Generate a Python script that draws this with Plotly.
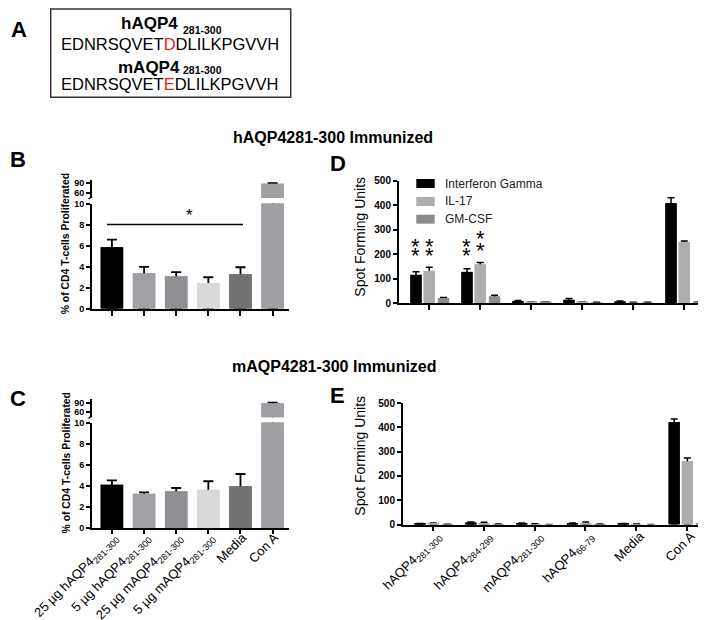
import plotly.graph_objects as go

W, H = 706, 620
FONT = "Arial, 'Liberation Sans', sans-serif"


def px(x):
    return x / W


def py(y):
    return 1 - y / H


# ---------------- data ----------------
prolif_cats = ["25 µg hAQP4<sub>281-300</sub>", "5 µg hAQP4<sub>281-300</sub>",
               "25 µg mAQP4<sub>281-300</sub>", "5 µg mAQP4<sub>281-300</sub>",
               "Media", "Con A"]
prolif_colors = ["#000000", "#a0a0a5", "#909094", "#d9d9d9", "#727272", "#a0a0a4"]

# panel B (hAQP4 281-300 immunized) - % CD4 T-cells proliferated
b_prolif = [5.85, 3.37, 3.08, 2.45, 3.27, 88.5]
b_prolif_err = [0.72, 0.60, 0.39, 0.54, 0.67, 1.5]
# panel C (mAQP4 281-300 immunized)
c_prolif = [4.10, 3.25, 3.48, 3.63, 3.95, 88.0]
c_prolif_err = [0.42, 0.13, 0.31, 0.80, 1.17, 1.5]

elispot_cats = ["hAQP4<sub>281-300</sub>", "hAQP4<sub>284-299</sub>", "mAQP4<sub>281-300</sub>",
                "hAQP4<sub>66-79</sub>", "Media", "Con A"]
cytokines = ["Interferon Gamma", "IL-17", "GM-CSF"]
cyto_colors = ["#000000", "#adadad", "#8c8c8c"]

# panel D (hAQP4 281-300 immunized) - spot forming units
d_ifn = [115, 127, 8, 13, 6, 407]
d_ifn_err = [13, 13, 2, 5, 2, 23]
d_il17 = [131, 158, 3, 3, 2, 249]
d_il17_err = [15, 7, 1, 1, 1, 4]
d_gm = [20, 27, 3, 2, 2, 3]
d_gm_err = [2, 5, 1, 1, 1, 1]

# panel E (mAQP4 281-300 immunized)
e_ifn = [3, 8, 5, 5, 3, 422]
e_ifn_err = [1, 2, 1, 1, 1, 12]
e_il17 = [3, 4, 2, 5, 1, 260]
e_il17_err = [3, 5, 1, 5, 1, 14]
e_gm = [1, 2, 0, 2, 0, 3]
e_gm_err = [0, 0, 0, 0, 0, 1]

# ---------------- figure ----------------
fig = go.Figure()


def add_bars(x, y, err, color, width, offset, xa, ya, cap, thick):
    # bar with upward error bar, then the same bar on top to hide the lower half
    fig.add_trace(go.Bar(
        x=x, y=y, width=width, offset=offset, marker=dict(color=color, line=dict(width=0)),
        error_y=dict(type="data", symmetric=False, array=err, arrayminus=y,
                     color="black", thickness=thick, width=cap),
        xaxis=xa, yaxis=ya, showlegend=False, hoverinfo="skip"))
    fig.add_trace(go.Bar(
        x=x, y=y, width=width, offset=offset, marker=dict(color=color, line=dict(width=0)),
        xaxis=xa, yaxis=ya, showlegend=False, hoverinfo="skip"))


# proliferation panels (broken axis: lower + upper segment)
for vals, errs, xa, ylow, yup in [(b_prolif, b_prolif_err, "x", "y", "y2"),
                                  (c_prolif, c_prolif_err, "x2", "y3", "y4")]:
    for ya in (ylow, yup):
        add_bars(prolif_cats, vals, errs, prolif_colors, 0.7, -0.35, xa, ya, 5, 1.8)

# ELISpot panels
bar_w = 0.22
offsets = [-0.365, -0.105, 0.175]
for series, xa, ya in [([(d_ifn, d_ifn_err), (d_il17, d_il17_err), (d_gm, d_gm_err)], "x3", "y5"),
                       ([(e_ifn, e_ifn_err), (e_il17, e_il17_err), (e_gm, e_gm_err)], "x4", "y6")]:
    for (vals, errs), col, off in zip(series, cyto_colors, offsets):
        add_bars(elispot_cats, vals, errs, col, bar_w, off, xa, ya, 3.5, 1.5)

axis_common = dict(showgrid=False, zeroline=False, showline=True, linecolor="black", linewidth=2,
                   ticks="outside", tickcolor="black", tickwidth=1.5, ticklen=5,
                   automargin=False, fixedrange=True)
bold9 = dict(family=FONT, size=9, color="black", weight="bold")
bold10 = dict(family=FONT, size=10, color="black", weight="bold")
reg13 = dict(family=FONT, size=13, color="black")

fig.update_layout(
    width=W, height=H, margin=dict(l=0, r=0, t=0, b=0),
    paper_bgcolor="white", plot_bgcolor="rgba(0,0,0,0)",
    template="none", barmode="overlay", showlegend=False,
    font=dict(family=FONT, color="black"),
    xaxis=dict(axis_common, domain=[px(84), px(281)], anchor="y", type="category",
               categoryorder="array", categoryarray=prolif_cats,
               range=[-0.62, 5.51], showticklabels=False),
    yaxis=dict(axis_common, domain=[py(300.7), py(195.5)], anchor="x", range=[0, 10],
               tickvals=[0, 2, 4, 6, 8, 10], tickfont=bold9, ticklen=4),
    yaxis2=dict(axis_common, domain=[py(190), py(172)], anchor="x", range=[44.7, 99.8],
                tickvals=[60, 90], tickfont=bold9, ticklen=4),
    xaxis2=dict(axis_common, domain=[px(84), px(281)], anchor="y3", type="category",
                categoryorder="array", categoryarray=prolif_cats,
                range=[-0.62, 5.51], tickangle=-45, tickfont=reg13, ticklen=4,
                ticklabelstandoff=-9, ticklabelshift=2),
    yaxis3=dict(axis_common, domain=[py(520), py(414.5)], anchor="x2", range=[0, 10],
                tickvals=[0, 2, 4, 6, 8, 10], tickfont=bold9, ticklen=4),
    yaxis4=dict(axis_common, domain=[py(409.3), py(391.3)], anchor="x2", range=[44.7, 99.8],
                tickvals=[60, 90], tickfont=bold9, ticklen=4),
    xaxis3=dict(axis_common, domain=[px(391), px(700)], anchor="y5", type="category",
                categoryorder="array", categoryarray=elispot_cats,
                range=[-0.588, 5.47], showticklabels=False),
    yaxis5=dict(axis_common, domain=[py(295), py(172.5)], anchor="x3", range=[0, 500],
                tickvals=[0, 100, 200, 300, 400, 500], tickfont=bold10, ticklen=4),
    xaxis4=dict(axis_common, domain=[px(395), px(701)], anchor="y6", type="category",
                categoryorder="array", categoryarray=elispot_cats,
                range=[-0.59, 5.43], tickangle=-45, tickfont=reg13, ticklen=4,
                ticklabelstandoff=-7, ticklabelshift=4),
    yaxis6=dict(axis_common, domain=[py(516.5), py(395)], anchor="x4", range=[0, 500],
                tickvals=[0, 100, 200, 300, 400, 500], tickfont=bold10, ticklen=4),
)

annotations = []


def ann(text, x, y, size, bold=False, xanchor="center", yanchor="middle", color="black",
        angle=0, xref="paper", yref="paper", yshift=0):
    annotations.append(dict(
        text=text, x=(px(x) if xref == "paper" else x), y=(py(y) if yref == "paper" else y),
        xref=xref, yref=yref, xanchor=xanchor, yanchor=yanchor, showarrow=False,
        textangle=angle, yshift=yshift,
        font=dict(family=FONT, size=size, color=color, weight="bold" if bold else "normal")))


# panel letters
ann("A", 11, 21, 22, True)
ann("B", 10, 151.5, 22, True)
ann("C", 10, 390, 22, True)
ann("D", 329.5, 155.5, 22, True)
ann("E", 329.5, 387.5, 22, True)

# panel A sequence box
ann("hAQP4", 141, 16, 17, True)
ann("281-300", 172.7, 22.2, 10.5, True, xanchor="left")
ann("EDNRSQVET<span style='color:#e8251f'>D</span>DLILKPGVVH", 161.7, 36, 16.5)
ann("mAQP4", 141, 59, 17, True)
ann("281-300", 173.3, 62.2, 10.5, True, xanchor="left")
ann("EDNRSQVET<span style='color:#e8251f'>E</span>DLILKPGVVH", 161.7, 76, 16.5)

# section titles
ann("hAQP4281-300 Immunized", 325, 129.3, 16, True)
ann("mAQP4281-300 Immunized", 326, 358.3, 16, True)

# axis titles
ann("% of CD4 T-cells Proliferated", 57.5, 235.8, 10.4, True, angle=-90)
ann("% of CD4 T-cells Proliferated", 57.5, 455, 10.4, True, angle=-90)
ann("Spot Forming Units", 351.7, 229, 14, angle=-90)
ann("Spot Forming Units", 351.7, 448, 14, angle=-90)

# legend for D
legend_rows = [175.5, 193.5, 211.2]
shapes = []
for name, col, yc in zip(cytokines, cyto_colors, legend_rows):
    shapes.append(dict(type="rect", xref="paper", yref="paper", x0=px(408.3), x1=px(426.7),
                       y0=py(yc + 4.5), y1=py(yc - 4.5), fillcolor=col, line=dict(width=0)))
    ann(name, 435, yc, 12, xanchor="left", color="#222222")

# significance in B
shapes.append(dict(type="line", xref="x", yref="y", x0=-0.15, x1=4.08, y0=8, y1=8,
                   line=dict(color="black", width=1.5)))
ann("*", 2.4, 8.7, 17, xref="x", yref="y", yshift=2)

# significance stars in D (bar index, series offset, star heights)
star_marks = [(0, 0, [181, 220]), (0, 1, [181, 220]), (1, 0, [181, 220]), (1, 1, [204, 252])]
for gi, si, heights in star_marks:
    for h in heights:
        ann("*", gi + offsets[si] + bar_w / 2, h, 22, xref="x3", yref="y5", yshift=3)

# broken-axis hooks
for top in (190, 409.3):
    shapes.append(dict(type="line", xref="paper", yref="paper", x0=px(84), x1=px(80.5),
                       y0=py(top - 1.5), y1=py(top + 1), line=dict(color="black", width=1.5)))

fig.update_layout(annotations=annotations, shapes=shapes + [
    dict(type="rect", xref="paper", yref="paper", x0=px(42.7), x1=px(282.7),
         y0=py(89.3), y1=py(1), line=dict(color="#333333", width=1.5), fillcolor="rgba(0,0,0,0)")
])

fig.write_html("out.html")
